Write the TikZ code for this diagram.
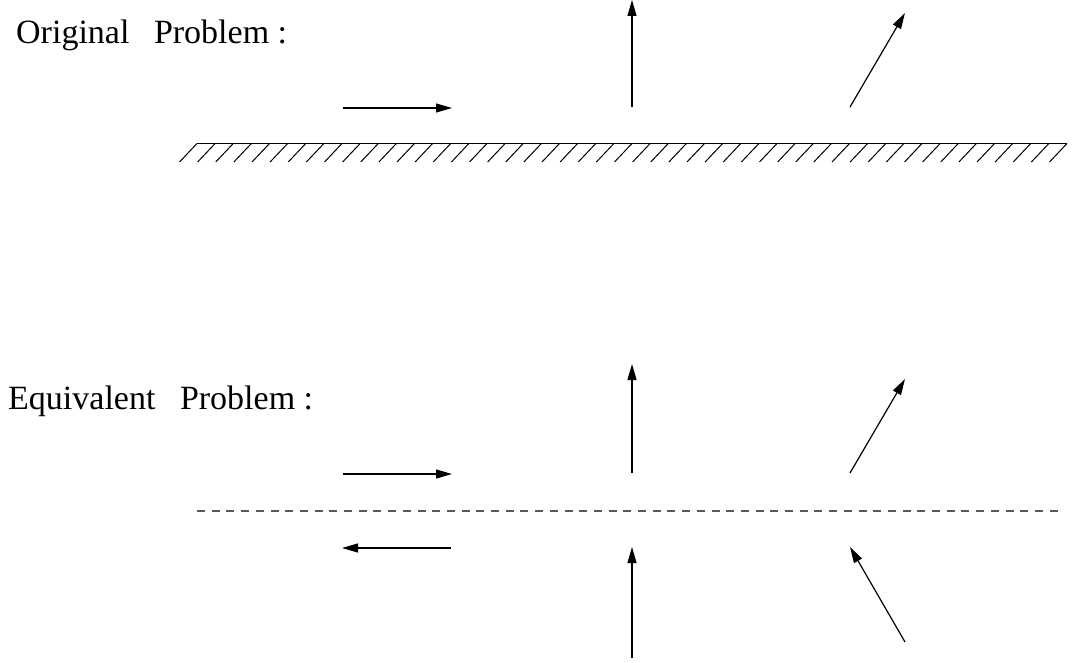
\documentclass[tikz,border=0pt]{standalone}
\usepackage{fontspec}
\setmainfont{Liberation Serif}
\usetikzlibrary{arrows.meta,calc}
\begin{document}
\begin{tikzpicture}[x=1pt,y=-1pt,
  vec/.style={line width=1.2pt,-{Triangle[length=16pt,width=9pt]}},
  lbl/.style={anchor=base west,inner sep=0pt,font=\fontsize{34}{40}\selectfont},
  wall/.style={line width=1.3pt},
  hatch/.style={line width=1pt},
  mirror/.style={line width=1.1pt,draw=black!65,dash pattern=on 8pt off 6.7pt}]
\useasboundingbox (0,0) rectangle (1075,663);
% labels
\node[lbl] (orig) at (16,44) {Original\hspace{0.72em}Problem :};
\node[lbl] (equiv) at (8,409) {Equivalent\hspace{0.72em}Problem :};
% wall
\coordinate (wl) at (197,143.5);
\coordinate (wr) at (1067,143.5);
\draw[wall] (wl) -- (wr);
\foreach \i in {0,...,48}{
  \draw[hatch] ($(wl)+(\i*18.125,0)$) -- ++(-17.5,18.5);
}
% original arrows
\coordinate (a1) at (343,108); \coordinate (a2) at (452,108);
\coordinate (b1) at (632,107); \coordinate (b2) at (632,0);
\coordinate (c1) at (850,107); \coordinate (c2) at (905,13);
\draw[vec] (a1) -- (a2);
\draw[vec] (b1) -- (b2);
\draw[vec] (c1) -- (c2);
% equivalent problem
\coordinate (d1) at (343,474); \coordinate (d2) at (452,474);
\coordinate (e1) at (632,473); \coordinate (e2) at (632,364);
\coordinate (f1) at (850,473); \coordinate (f2) at (905,379);
\draw[vec] (d1) -- (d2);
\draw[vec] (e1) -- (e2);
\draw[vec] (f1) -- (f2);
\coordinate (ml) at (197,511); \coordinate (mr) at (1062,511);
\draw[mirror] (ml) -- (mr);
\coordinate (g1) at (451,548); \coordinate (g2) at (342,548);
\coordinate (h1) at (632,658); \coordinate (h2) at (632,547);
\coordinate (k1) at (905,642); \coordinate (k2) at (850,547);
\draw[vec] (g1) -- (g2);
\draw[vec] (h1) -- (h2);
\draw[vec] (k1) -- (k2);
\end{tikzpicture}
\end{document}
